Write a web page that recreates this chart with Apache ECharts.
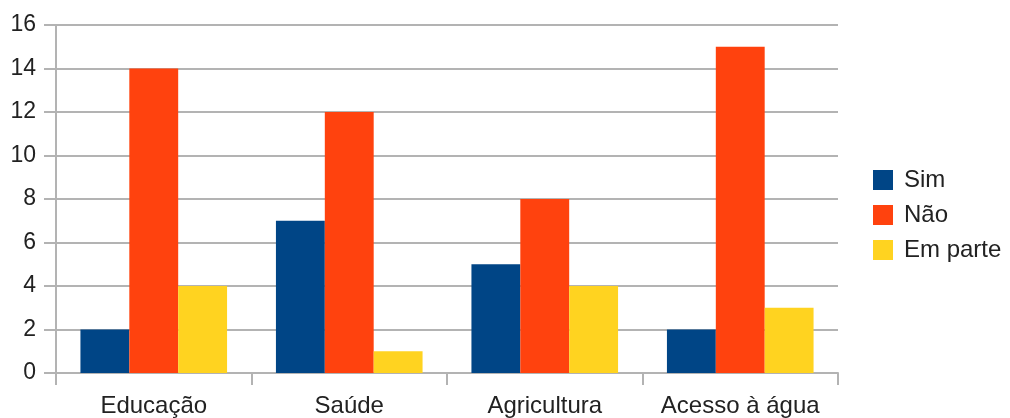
<!DOCTYPE html>
<html><head><meta charset="utf-8">
<script src="https://cdn.jsdelivr.net/npm/echarts@6/dist/echarts.min.js"></script>
<style>html,body{margin:0;padding:0;background:#fff}#c{width:1010px;height:418px}</style>
</head><body><div id="c"></div>
<script>
const categories = ['Educação', 'Saúde', 'Agricultura', 'Acesso à água'];
const sim = [2, 7, 5, 2];
const nao = [14, 12, 8, 15];
const emParte = [4, 1, 4, 3];
const seriesNames = ['Sim', 'Não', 'Em parte'];
const colors = ['#004586', '#ff420e', '#ffd320'];

const chart = echarts.init(document.getElementById('c'), null, {renderer: 'canvas'});
const font = 'Liberation Sans, Arial, sans-serif';
chart.setOption({
  animation: false,
  color: colors,
  textStyle: {fontFamily: font},
  legend: {
    orient: 'vertical', left: 873, top: 168, padding: 0,
    itemWidth: 20, itemHeight: 20, itemGap: 11,
    icon: 'rect',
    textStyle: {fontSize: 24, color: '#222', fontFamily: font, padding: [0,0,0,6]},
    data: seriesNames
  },
  grid: {left: 56, right: 172, top: 25, bottom: 45, containLabel: false},
  xAxis: {
    type: 'category', data: categories,
    axisLine: {lineStyle: {color: '#b3b3b3', width: 2}},
    axisTick: {show: true, interval: 0, length: 12, lineStyle: {color: '#b3b3b3', width: 2}},
    axisLabel: {interval: 0, fontSize: 24, color: '#222', margin: 21, fontFamily: font}
  },
  yAxis: {
    type: 'value', min: 0, max: 16, interval: 2,
    axisLine: {show: true, lineStyle: {color: '#b3b3b3', width: 2}},
    axisTick: {show: true, length: 12, lineStyle: {color: '#b3b3b3', width: 2}},
    splitLine: {lineStyle: {color: '#b3b3b3', width: 2}},
    axisLabel: {fontSize: 23, color: '#222', margin: 20, fontFamily: font}
  },
  series: [
    {name: seriesNames[0], type: 'bar', data: sim, barGap: '0%', barCategoryGap: '25%'},
    {name: seriesNames[1], type: 'bar', data: nao, barGap: '0%', barCategoryGap: '25%'},
    {name: seriesNames[2], type: 'bar', data: emParte, barGap: '0%', barCategoryGap: '25%'}
  ]
});
</script></body></html>
